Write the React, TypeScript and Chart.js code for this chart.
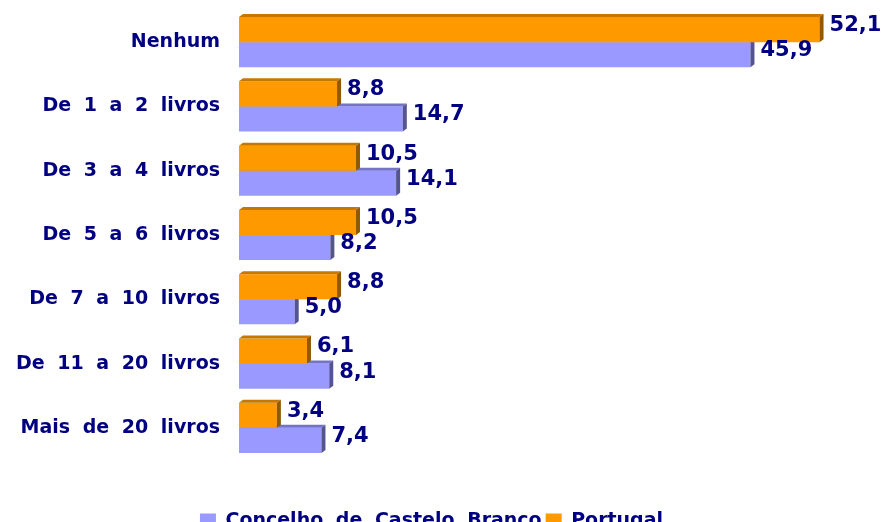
import React, { useEffect, useRef } from "react";
import { Chart, registerables } from "chart.js";

Chart.register(...registerables);

const categories = [
  "Nenhum",
  "De 1 a 2 livros",
  "De 3 a 4 livros",
  "De 5 a 6 livros",
  "De 7 a 10 livros",
  "De 11 a 20 livros",
  "Mais de 20 livros",
];
const concelhoValues = [45.9, 14.7, 14.1, 8.2, 5.0, 8.1, 7.4];
const portugalValues = [52.1, 8.8, 10.5, 10.5, 8.8, 6.1, 3.4];
const seriesNames = ["Concelho de Castelo Branco", "Portugal"];

const FONT = "'DejaVu Sans', sans-serif";
const NAVY = "#000080";
const faceColors: Record<string, { top: string; side: string }> = {
  Portugal: { top: "#C77700", side: "#8F5A00" },
  "Concelho de Castelo Branco": { top: "#7373C8", side: "#545490" },
};

const spacingPlugin = {
  id: "wordSpacing",
  beforeUpdate(chart: any) {
    (chart.ctx as any).wordSpacing = "6px";
  },
  beforeDraw(chart: any) {
    (chart.ctx as any).wordSpacing = "6px";
  },
};

const depthPlugin = {
  id: "depth3d",
  afterDatasetDraw(chart: any, args: any) {
    const ctx = chart.ctx;
    const ds = chart.data.datasets[args.index];
    const colors = faceColors[ds.label];
    const dx = 4;
    const dy = -3;
    ctx.save();
    args.meta.data.forEach((bar: any) => {
      const { x, y, base, height } = bar.getProps(["x", "y", "base", "height"], true);
      const top = y - height / 2;
      const bottom = y + height / 2;
      ctx.fillStyle = colors.top;
      ctx.beginPath();
      ctx.moveTo(base, top);
      ctx.lineTo(base + dx, top + dy);
      ctx.lineTo(x + dx, top + dy);
      ctx.lineTo(x, top);
      ctx.closePath();
      ctx.fill();
      ctx.fillStyle = colors.side;
      ctx.beginPath();
      ctx.moveTo(x, top);
      ctx.lineTo(x + dx, top + dy);
      ctx.lineTo(x + dx, bottom + dy);
      ctx.lineTo(x, bottom);
      ctx.closePath();
      ctx.fill();
    });
    ctx.restore();
  },
};

const valueLabelPlugin = {
  id: "valueLabels",
  afterDatasetsDraw(chart: any) {
    const ctx = chart.ctx;
    ctx.save();
    ctx.font = `bold 21px ${FONT}`;
    ctx.fillStyle = NAVY;
    ctx.textAlign = "left";
    ctx.textBaseline = "middle";
    chart.data.datasets.forEach((ds: any, i: number) => {
      const meta = chart.getDatasetMeta(i);
      meta.data.forEach((bar: any, j: number) => {
        const v = ds.data[j] as number;
        const text = v.toFixed(1).replace(".", ",");
        ctx.fillText(text, bar.x + 10, bar.y - 4);
      });
    });
    ctx.restore();
  },
};

const noPad = (scale: any) => {
  scale.paddingTop = 0;
  scale.paddingBottom = 0;
  scale.paddingLeft = 0;
  scale.paddingRight = 0;
};

export default function App() {
  const canvasRef = useRef<HTMLCanvasElement>(null);

  useEffect(() => {
    if (!canvasRef.current) return;
    const chart = new Chart(canvasRef.current, {
      type: "bar",
      data: {
        labels: categories,
        datasets: [
          {
            label: seriesNames[1],
            data: portugalValues,
            backgroundColor: "#FF9900",
            borderWidth: 0,
            categoryPercentage: 0.78,
            barPercentage: 1,
          },
          {
            label: seriesNames[0],
            data: concelhoValues,
            backgroundColor: "#9999FF",
            borderWidth: 0,
            categoryPercentage: 0.78,
            barPercentage: 1,
          },
        ],
      },
      options: {
        indexAxis: "y",
        animation: false,
        responsive: true,
        maintainAspectRatio: false,
        layout: { autoPadding: false, padding: { top: 10, right: 22, bottom: -19, left: 0 } },
        scales: {
          x: {
            display: true,
            min: 0,
            max: 56,
            grid: { display: false, drawTicks: false },
            border: { display: false },
            ticks: { display: false },
            afterFit: (scale: any) => {
              scale.height = 48;
              noPad(scale);
            },
          },
          y: {
            grid: { display: false, drawTicks: false },
            border: { display: false },
            ticks: {
              color: NAVY,
              font: { family: FONT, size: 19, weight: "bold" },
              padding: 19,
            },
            afterFit: (scale: any) => {
              scale.width = 239;
              noPad(scale);
            },
          },
        },
        plugins: {
          legend: {
            position: "bottom",
            reverse: true,
            labels: {
              color: NAVY,
              font: { family: FONT, size: 19, weight: "bold" },
              boxWidth: 16,
              boxHeight: 16,
              padding: 4,
            },
          },
          tooltip: { enabled: false },
        },
      },
      plugins: [spacingPlugin, depthPlugin, valueLabelPlugin],
    } as any);
    return () => chart.destroy();
  }, []);

  return (
    <div style={{ position: "fixed", left: 0, top: 0, width: 885, height: 522, background: "#fff" }}>
      <canvas ref={canvasRef} />
    </div>
  );
}
